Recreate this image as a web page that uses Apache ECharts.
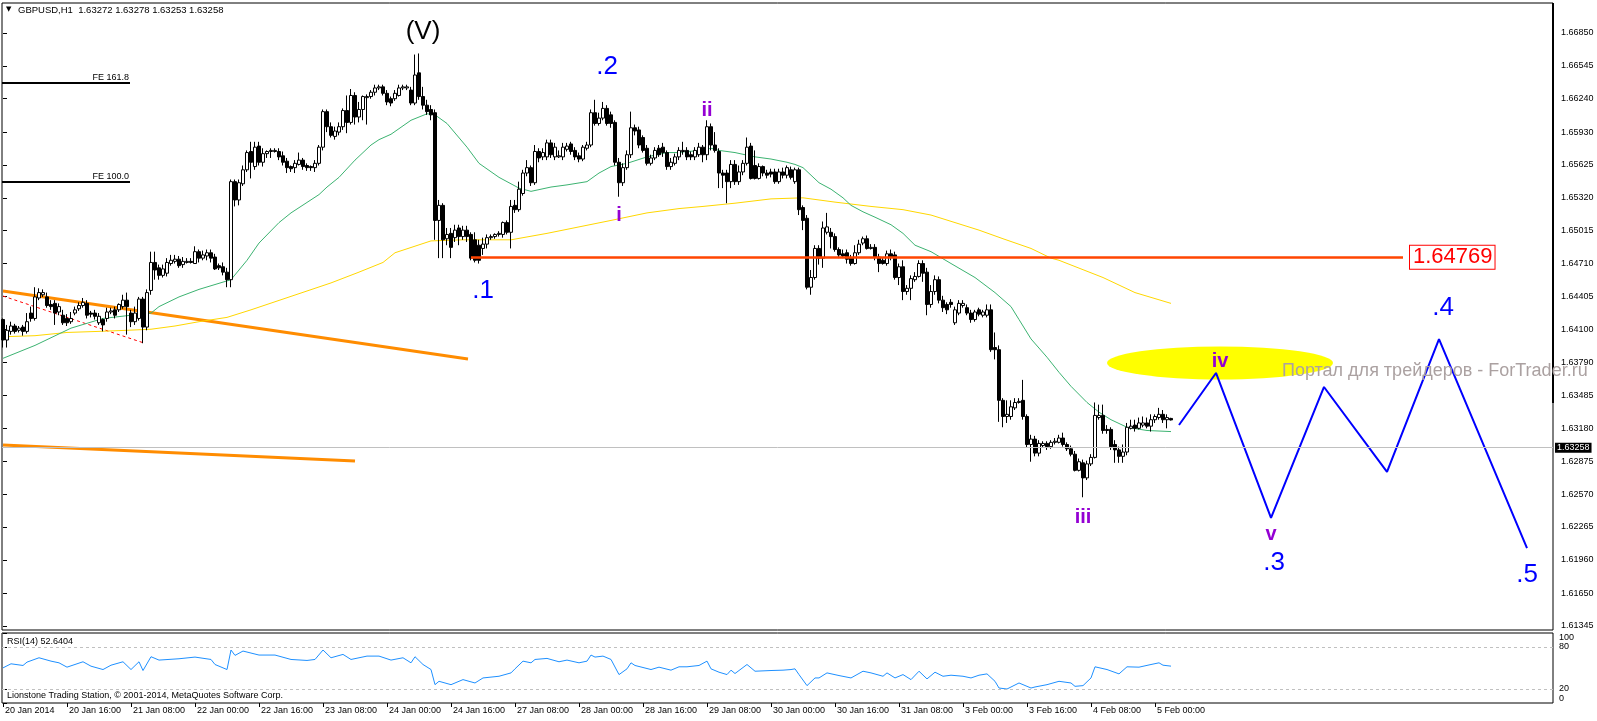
<!DOCTYPE html>
<html><head><meta charset="utf-8">
<script src="https://cdn.jsdelivr.net/npm/echarts@6/dist/echarts.min.js"></script>
<style>html,body{margin:0;padding:0;background:#fff}#c{width:1597px;height:721px}</style>
</head><body><div id="c"></div>
<script>
// ---------- DATA (GBPUSD H1, bars indexed from 20 Jan 2014 00:00) ----------
const xTickBars = [0,16,32,48,64,80,96,112,128,144,160,176,192,208,224,240,256,272,288];
const xTickLabels = ["20 Jan 2014","20 Jan 16:00","21 Jan 08:00","22 Jan 00:00","22 Jan 16:00","23 Jan 08:00","24 Jan 00:00","24 Jan 16:00","27 Jan 08:00","28 Jan 00:00","28 Jan 16:00","29 Jan 08:00","30 Jan 00:00","30 Jan 16:00","31 Jan 08:00","3 Feb 00:00","3 Feb 16:00","4 Feb 08:00","5 Feb 00:00"];
const yTicks = [1.66850,1.66545,1.66240,1.65930,1.65625,1.65320,1.65015,1.64710,1.64405,1.64100,1.63790,1.63485,1.63180,1.62875,1.62570,1.62265,1.61960,1.61650,1.61345];
const rsiTicks = [0,20,80,100];

const opens = [
1.6419,1.6400,1.6408,1.6413,1.6409,1.6412,1.6408,1.6425,1.6420,1.6439,
1.6442,1.6440,1.6433,1.6434,1.6426,1.6423,1.6420,1.6417,1.6425,1.6429,
1.6432,1.6434,1.6425,1.6425,1.6416,1.6419,1.6420,1.6426,1.6428,1.6428,
1.6431,1.6437,1.6425,1.6417,1.6420,1.6438,1.6412,1.6446,1.6472,1.6467,
1.6460,1.6462,1.6471,1.6473,1.6475,1.6470,1.6472,1.6473,1.6471,1.6482,
1.6476,1.6478,1.6481,1.6477,1.6469,1.6468,1.6463,1.6456,1.6547,1.6530,
1.6545,1.6558,1.6575,1.6561,1.6580,1.6565,1.6573,1.6575,1.6575,1.6575,
1.6571,1.6566,1.6561,1.6560,1.6563,1.6567,1.6562,1.6561,1.6560,1.6564,
1.6579,1.6612,1.6598,1.6589,1.6593,1.6598,1.6613,1.6602,1.6627,1.6607,
1.6614,1.6625,1.6626,1.6630,1.6634,1.6635,1.6629,1.6624,1.6624,1.6627,
1.6634,1.6634,1.6632,1.6620,1.6648,1.6626,1.6618,1.6614,1.6611,1.6511,
1.6525,1.6494,1.6499,1.6495,1.6504,1.6496,1.6502,1.6498,1.6493,1.6488,
1.6485,1.6489,1.6495,1.6496,1.6498,1.6498,1.6509,1.6500,1.6525,1.6521,
1.6536,1.6555,1.6560,1.6546,1.6575,1.6570,1.6570,1.6583,1.6570,1.6570,
1.6570,1.6577,1.6582,1.6576,1.6571,1.6568,1.6578,1.6581,1.6611,1.6601,
1.6606,1.6615,1.6609,1.6602,1.6565,1.6546,1.6560,1.6572,1.6597,1.6595,
1.6588,1.6578,1.6564,1.6569,1.6578,1.6579,1.6574,1.6561,1.6564,1.6570,
1.6575,1.6576,1.6572,1.6570,1.6572,1.6579,1.6572,1.6598,1.6581,1.6575,
1.6555,1.6555,1.6547,1.6563,1.6547,1.6556,1.6564,1.6580,1.6562,1.6550,
1.6561,1.6555,1.6556,1.6556,1.6547,1.6556,1.6553,1.6558,1.6547,1.6558,
1.6523,1.6513,1.6449,1.6458,1.6485,1.6476,1.6500,1.6500,1.6496,1.6484,
1.6480,1.6481,1.6476,1.6471,1.6481,1.6490,1.6494,1.6485,1.6486,1.6477,
1.6474,1.6471,1.6480,1.6479,1.6458,1.6468,1.6445,1.6448,1.6456,1.6459,
1.6471,1.6463,1.6433,1.6445,1.6456,1.6437,1.6433,1.6435,1.6416,1.6425,
1.6432,1.6430,1.6425,1.6419,1.6428,1.6423,1.6423,1.6428,1.6393,1.6391,
1.6344,1.6329,1.6329,1.6337,1.6342,1.6344,1.6329,1.6303,1.6308,1.6295,
1.6302,1.6304,1.6301,1.6305,1.6305,1.6309,1.6303,1.6299,1.6294,1.6279,
1.6286,1.6272,1.6285,1.6291,1.6328,1.6330,1.6317,1.6317,1.6303,1.6298,
1.6292,1.6296,1.6318,1.6321,1.6318,1.6321,1.6323,1.6320,1.6326,1.6328,
1.6331,1.6326,1.63272];
const highs = [
1.6420,1.6414,1.6417,1.6415,1.6413,1.6414,1.6425,1.6431,1.6449,1.6448,
1.6447,1.6444,1.6437,1.6437,1.6434,1.6428,1.6424,1.6426,1.6431,1.6435,
1.6439,1.6437,1.6427,1.6428,1.6425,1.6420,1.6430,1.6430,1.6431,1.6434,
1.6442,1.6444,1.6428,1.6431,1.6440,1.6440,1.6447,1.6482,1.6482,1.6470,
1.6470,1.6476,1.6479,1.6479,1.6478,1.6477,1.6476,1.6476,1.6487,1.6484,
1.6483,1.6484,1.6484,1.6480,1.6471,1.6472,1.6467,1.6549,1.6549,1.6549,
1.6562,1.6576,1.6584,1.6584,1.6584,1.6578,1.6576,1.6578,1.6578,1.6578,
1.6575,1.6569,1.6562,1.6567,1.6574,1.6569,1.6564,1.6562,1.6567,1.6581,
1.6614,1.6614,1.6602,1.6598,1.6602,1.6615,1.6627,1.6633,1.6630,1.6621,
1.6627,1.6628,1.6632,1.6637,1.6637,1.6637,1.6632,1.6626,1.6632,1.6637,
1.6637,1.6637,1.6635,1.6665,1.6666,1.6635,1.6623,1.6618,1.6614,1.6530,
1.6527,1.6504,1.6504,1.6507,1.6507,1.6506,1.6506,1.6500,1.6500,1.6493,
1.6495,1.6498,1.6498,1.6499,1.6501,1.6510,1.6511,1.6530,1.6530,1.6547,
1.6558,1.6567,1.6562,1.6581,1.6578,1.6578,1.6586,1.6586,1.6583,1.6576,
1.6583,1.6583,1.6584,1.6579,1.6574,1.6581,1.6584,1.6614,1.6623,1.6611,
1.6621,1.6618,1.6612,1.6604,1.6569,1.6564,1.6576,1.6612,1.6600,1.6598,
1.6590,1.6581,1.6572,1.6579,1.6581,1.6583,1.6576,1.6569,1.6573,1.6579,
1.6584,1.6579,1.6575,1.6579,1.6583,1.6581,1.6604,1.6601,1.6593,1.6578,
1.6558,1.6558,1.6567,1.6567,1.6562,1.6567,1.6588,1.6583,1.6576,1.6564,
1.6562,1.6558,1.6559,1.6559,1.6559,1.6560,1.6562,1.6561,1.6560,1.6560,
1.6525,1.6516,1.6465,1.6488,1.6488,1.6510,1.6518,1.6504,1.6499,1.6486,
1.6484,1.6484,1.6479,1.6488,1.6493,1.6496,1.6497,1.6489,1.6489,1.6480,
1.6476,1.6483,1.6484,1.6482,1.6471,1.6474,1.6451,1.6460,1.6463,1.6474,
1.6474,1.6467,1.6451,1.6460,1.6459,1.6441,1.6435,1.6438,1.6431,1.6437,
1.6437,1.6433,1.6428,1.6428,1.6430,1.6428,1.6433,1.6433,1.6407,1.6395,
1.6346,1.6344,1.6344,1.6346,1.6346,1.6363,1.6331,1.6312,1.6311,1.6307,
1.6306,1.6306,1.6307,1.6309,1.6312,1.6314,1.6305,1.6302,1.6297,1.6290,
1.6289,1.6288,1.6294,1.6342,1.6340,1.6340,1.6321,1.6319,1.6307,1.6301,
1.6303,1.6323,1.6326,1.6326,1.6328,1.6329,1.6328,1.6331,1.6331,1.6337,
1.6335,1.6331,1.63278];
const lows = [
1.6393,1.6393,1.6405,1.6406,1.6407,1.6404,1.6406,1.6417,1.6418,1.6437,
1.6440,1.6430,1.6428,1.6414,1.6423,1.6414,1.6413,1.6415,1.6423,1.6427,
1.6430,1.6420,1.6421,1.6419,1.6414,1.6408,1.6417,1.6424,1.6420,1.6426,
1.6429,1.6405,1.6412,1.6414,1.6418,1.6397,1.6409,1.6442,1.6456,1.6456,
1.6458,1.6459,1.6469,1.6471,1.6467,1.6467,1.6471,1.6471,1.6471,1.6472,
1.6474,1.6474,1.6472,1.6465,1.6465,1.6460,1.6449,1.6449,1.6524,1.6525,
1.6543,1.6556,1.6550,1.6558,1.6562,1.6561,1.6569,1.6569,1.6574,1.6567,
1.6562,1.6555,1.6556,1.6555,1.6562,1.6558,1.6557,1.6557,1.6556,1.6562,
1.6576,1.6593,1.6588,1.6586,1.6590,1.6595,1.6592,1.6600,1.6600,1.6602,
1.6604,1.6600,1.6624,1.6627,1.6632,1.6627,1.6618,1.6617,1.6622,1.6626,
1.6632,1.6632,1.6618,1.6618,1.6623,1.6614,1.6609,1.6604,1.6493,1.6476,
1.6476,1.6488,1.6476,1.6491,1.6488,1.6493,1.6491,1.6474,1.6472,1.6471,
1.6479,1.6485,1.6493,1.6494,1.6496,1.6495,1.6498,1.6485,1.6518,1.6519,
1.6534,1.6552,1.6543,1.6544,1.6565,1.6567,1.6567,1.6569,1.6567,1.6569,
1.6567,1.6575,1.6572,1.6567,1.6565,1.6566,1.6576,1.6579,1.6599,1.6599,
1.6604,1.6599,1.6597,1.6562,1.6533,1.6543,1.6558,1.6569,1.6590,1.6578,
1.6574,1.6562,1.6562,1.6567,1.6570,1.6570,1.6558,1.6558,1.6562,1.6567,
1.6572,1.6567,1.6567,1.6567,1.6570,1.6565,1.6567,1.6576,1.6574,1.6541,
1.6541,1.6527,1.6541,1.6544,1.6544,1.6553,1.6562,1.6549,1.6549,1.6549,
1.6552,1.6550,1.6551,1.6545,1.6545,1.6550,1.6550,1.6549,1.6545,1.6516,
1.6502,1.6447,1.6442,1.6456,1.6470,1.6467,1.6498,1.6485,1.6482,1.6476,
1.6476,1.6471,1.6469,1.6470,1.6479,1.6488,1.6484,1.6484,1.6474,1.6463,
1.6470,1.6469,1.6474,1.6456,1.6451,1.6437,1.6442,1.6437,1.6454,1.6458,
1.6454,1.6423,1.6430,1.6442,1.6434,1.6426,1.6424,1.6430,1.6414,1.6423,
1.6430,1.6423,1.6416,1.6417,1.6422,1.6421,1.6421,1.6389,1.6382,1.6324,
1.6319,1.6323,1.6326,1.6335,1.6341,1.6326,1.6300,1.6287,1.6292,1.6292,
1.6300,1.6298,1.6299,1.6303,1.6304,1.6301,1.6297,1.6292,1.6278,1.6278,
1.6254,1.6270,1.6283,1.6290,1.6326,1.6313,1.6313,1.6298,1.6286,1.6286,
1.6286,1.6293,1.6317,1.6315,1.6317,1.6319,1.6318,1.6315,1.6323,1.6326,
1.6323,1.6318,1.63253];
const closes = [
1.6400,1.6409,1.6413,1.6408,1.6411,1.6408,1.6417,1.6420,1.6440,1.6444,
1.6444,1.6432,1.6431,1.6425,1.6431,1.6416,1.6416,1.6420,1.6428,1.6432,
1.6435,1.6423,1.6424,1.6422,1.6422,1.6414,1.6426,1.6427,1.6423,1.6433,
1.6437,1.6431,1.6417,1.6425,1.6438,1.6412,1.6444,1.6472,1.6465,1.6460,
1.6466,1.6472,1.6474,1.6475,1.6469,1.6473,1.6473,1.6472,1.6482,1.6476,
1.6479,1.6481,1.6476,1.6466,1.6467,1.6463,1.6456,1.6547,1.6530,1.6546,
1.6558,1.6574,1.6565,1.6579,1.6565,1.6573,1.6575,1.6576,1.6576,1.6570,
1.6565,1.6560,1.6559,1.6564,1.6567,1.6561,1.6560,1.6560,1.6564,1.6579,
1.6612,1.6598,1.6590,1.6594,1.6598,1.6613,1.6602,1.6627,1.6607,1.6614,
1.6626,1.6626,1.6630,1.6634,1.6635,1.6629,1.6621,1.6620,1.6629,1.6634,
1.6635,1.6635,1.6620,1.6646,1.6626,1.6618,1.6612,1.6609,1.6511,1.6525,
1.6493,1.6498,1.6486,1.6502,1.6496,1.6502,1.6496,1.6476,1.6474,1.6474,
1.6489,1.6495,1.6496,1.6498,1.6499,1.6509,1.6500,1.6524,1.6521,1.6540,
1.6555,1.6560,1.6546,1.6575,1.6569,1.6574,1.6583,1.6572,1.6579,1.6571,
1.6579,1.6580,1.6575,1.6570,1.6568,1.6579,1.6581,1.6611,1.6601,1.6606,
1.6615,1.6601,1.6601,1.6565,1.6546,1.6560,1.6572,1.6597,1.6594,1.6581,
1.6576,1.6564,1.6569,1.6576,1.6572,1.6574,1.6561,1.6565,1.6570,1.6576,
1.6576,1.6570,1.6570,1.6576,1.6579,1.6572,1.6598,1.6581,1.6576,1.6555,
1.6553,1.6547,1.6563,1.6547,1.6556,1.6564,1.6579,1.6550,1.6550,1.6561,
1.6555,1.6553,1.6554,1.6547,1.6556,1.6553,1.6560,1.6551,1.6558,1.6521,
1.6511,1.6449,1.6458,1.6485,1.6476,1.6504,1.6505,1.6496,1.6484,1.6479,
1.6478,1.6475,1.6471,1.6481,1.6489,1.6494,1.6485,1.6486,1.6477,1.6471,
1.6471,1.6480,1.6477,1.6458,1.6468,1.6445,1.6448,1.6457,1.6459,1.6471,
1.6462,1.6433,1.6445,1.6456,1.6437,1.6430,1.6428,1.6433,1.6428,1.6434,
1.6434,1.6425,1.6419,1.6426,1.6424,1.6426,1.6428,1.6391,1.6391,1.6344,
1.6329,1.6331,1.6338,1.6342,1.6343,1.6329,1.6303,1.6308,1.6295,1.6304,
1.6304,1.6301,1.6305,1.6306,1.6309,1.6303,1.6299,1.6294,1.6279,1.6287,
1.6272,1.6285,1.6291,1.6330,1.6330,1.6316,1.6316,1.6301,1.6298,1.6292,
1.6296,1.6319,1.6320,1.6318,1.6323,1.6323,1.6320,1.6326,1.6329,1.6331,
1.6326,1.6328,1.63258];

// moving averages read at sampled bars [bar, price]
const maGreen = [[0,1.6383],[8,1.6395],[17,1.6411],[25,1.6420],[32,1.6423],[37,1.6425],[39,1.6431],[44,1.6440],[49,1.6447],[57,1.6456],[61,1.6474],[64,1.6490],[69,1.6509],[72,1.6518],[79,1.6535],[81,1.6542],[84,1.6551],[88,1.6567],[92,1.6581],[94,1.6586],[97,1.6591],[102,1.6604],[106,1.6610],[108,1.6609],[111,1.6601],[116,1.6579],[119,1.6564],[124,1.6551],[129,1.6541],[132,1.6538],[137,1.6542],[141,1.6544],[146,1.6547],[149,1.6555],[152,1.6561],[156,1.6564],[161,1.6570],[166,1.6574],[169,1.6574],[171,1.6575],[175,1.6576],[177,1.6578],[179,1.6576],[183,1.6574],[188,1.6570],[192,1.6568],[196,1.6565],[198,1.6563],[200,1.6560],[202,1.6553],[204,1.6546],[207,1.6540],[210,1.6532],[212,1.6525],[215,1.6519],[218,1.6514],[222,1.6507],[225,1.6499],[228,1.6488],[232,1.6482],[237,1.6471],[243,1.6458],[248,1.6444],[252,1.6431],[254,1.6419],[257,1.6401],[261,1.6384],[264,1.6370],[267,1.6357],[271,1.6342],[274,1.6333],[277,1.6326],[281,1.6319],[286,1.6316],[292,1.6315]];
const maYellow = [[0,1.6403],[8,1.6404],[16,1.6407],[24,1.6408],[31,1.6409],[37,1.6410],[43,1.6413],[49,1.6417],[56,1.6421],[62,1.6428],[74,1.6443],[82,1.6453],[89,1.6463],[95,1.6472],[98,1.6481],[107,1.6492],[115,1.6493],[127,1.6493],[136,1.6499],[144,1.6505],[152,1.6511],[161,1.6518],[169,1.6522],[175,1.6524],[183,1.6527],[192,1.6531],[200,1.6532],[208,1.6528],[217,1.6524],[225,1.6521],[232,1.6516],[244,1.6502],[250,1.6494],[257,1.6485],[262,1.6476],[264,1.6474],[275,1.6458],[283,1.6444],[292,1.6434]];

// RSI(14) read at sampled bars [bar, value]
const rsi = [[0,50.2],[2,56],[5,53.6],[6,58.4],[9,64.6],[12,59.8],[14,57.4],[16,51.2],[20,58.9],[22,52.6],[25,47.8],[27,54],[30,58.9],[32,47.8],[34,58.9],[35,46.4],[37,66.1],[39,61.3],[44,63.2],[48,65.6],[52,62.2],[53,55],[56,47.8],[57,75.7],[58,68],[60,74.2],[64,68.5],[68,68.5],[72,62.2],[76,60.8],[78,62.2],[80,75.7],[82,64.6],[85,69.4],[87,62.2],[91,67],[94,67],[97,61.3],[100,64.6],[102,57.4],[103,66.1],[105,55],[107,47.8],[108,26.2],[109,31],[112,26.2],[115,33.4],[118,28.6],[120,35.8],[124,38.2],[127,43],[128,48.8],[130,59.8],[132,57.4],[133,62.2],[136,63.7],[139,58.9],[141,61.3],[144,57.4],[146,59.8],[147,68.5],[148,65.6],[150,67],[152,62.2],[154,40.6],[156,48.8],[157,57.4],[158,53.6],[162,47.8],[164,51.2],[167,46.9],[169,51.7],[171,51.7],[174,53.6],[176,59.8],[177,48.8],[179,44],[181,40.6],[182,46.9],[183,42.1],[186,55],[188,45.4],[192,46.4],[195,46.9],[197,47.8],[198,48.8],[199,40.6],[201,24.8],[203,35.8],[204,35.8],[206,43],[209,39.2],[212,35.8],[215,45.4],[217,43],[220,38.2],[221,43],[223,35.8],[225,40.6],[227,33.4],[229,45.4],[231,34.4],[233,44],[235,38.2],[237,39.7],[240,38.2],[242,35.8],[244,39.7],[246,41.6],[248,31],[249,21.4],[251,20],[254,28.6],[257,21.4],[258,22.9],[261,26.2],[264,31],[267,28.6],[268,23.8],[270,24.8],[272,35.8],[273,51.7],[276,47.8],[279,41.6],[281,51.7],[284,51.2],[287,55],[289,57.4],[290,54],[292,52.64]];
const rsiLevels = [20, 80];
const rsiLast = 52.6404;

// drawn objects (bar, price)
const zigzag = [[294,1.63211],[303.25,1.63694],[317,1.62348],[330.25,1.63564],[346,1.62775],[359,1.64009],[381,1.62069]];
const trendOrange1 = [[0,1.64455],[116.25,1.63824]];
const trendOrange2 = [[0,1.63025],[88,1.62877]];
const trendRedDot = [[0,1.64408],[35.25,1.63972]];
const levelRed = {price:1.64769, from:117, to:350};
const feNames = ["FE 161.8","FE 100.0"];
const fePrices = [1.66386, 1.65467];
const feEndBar = 31.75;
const lastPrice = 1.63258;
const zoneCenter = [304.25, 1.63787];

const waveText  = ["(V)", ".1", ".2", "i", "ii", "iii", "iv", "v", ".3", ".4", ".5"];
const waveKind  = ["black","blue","blue","violet","violet","violet","violet","violet","blue","blue","blue"];
const waveBar   = [105, 120, 151, 154, 176, 270, 304.25, 317, 317.75, 360, 381];
const wavePrice = [1.66859, 1.64455, 1.66534, 1.65160, 1.66135, 1.62357, 1.63805, 1.62190, 1.61930, 1.64297, 1.61818];

// ---------- CHART ----------
const FONT = '"Liberation Sans", Arial, sans-serif';
const X_MIN = -0.25, X_MAX = 387.5;
const Y_MIN = 1.613079, Y_MAX = 1.671285;
const candles = closes.map((c, i) => [i, opens[i], c, lows[i], highs[i]]);
const n = closes.length - 1;
const kindStyle = {
  black:  {color:'#000000', fontSize:26, fontWeight:'normal'},
  blue:   {color:'#0000FF', fontSize:26, fontWeight:'normal'},
  violet: {color:'#9400D3', fontSize:20, fontWeight:'bold'}
};
const waveData = waveText.map((t, i) => ({
  value: [waveBar[i], wavePrice[i]],
  label: Object.assign({show:true, formatter:t, position:'inside', fontFamily:FONT, textBorderWidth:0, textShadowBlur:0}, kindStyle[waveKind[i]])
}));
const fmt = v => v.toFixed(5);

const chart = echarts.init(document.getElementById('c'));
const option = {
  animation: false,
  backgroundColor: '#ffffff',
  grid: [
    {left:2, right:44, top:3, height:627, show:true, borderColor:'#000', borderWidth:1, backgroundColor:'#fff'},
    {left:2, right:44, top:633, height:70, show:true, borderColor:'#000', borderWidth:1, backgroundColor:'#fff'}
  ],
  xAxis: [
    {type:'value', gridIndex:0, min:X_MIN, max:X_MAX, show:false},
    {type:'value', gridIndex:1, min:X_MIN, max:X_MAX, splitLine:{show:false}, axisLine:{show:false},
     axisTick:{show:true, customValues:xTickBars, length:4, lineStyle:{color:'#000'}},
     axisLabel:{customValues:xTickBars, formatter:v => xTickLabels[xTickBars.indexOf(Math.round(v))] || '',
                align:'left', margin:3, fontSize:9, color:'#000', fontFamily:FONT, padding:[0,0,0,2]}}
  ],
  yAxis: [
    {type:'value', gridIndex:0, min:Y_MIN, max:Y_MAX, position:'right', splitLine:{show:false}, axisLine:{show:false},
     axisTick:{show:true, customValues:yTicks, length:4, lineStyle:{color:'#000'}},
     axisLabel:{customValues:yTicks, formatter:fmt, margin:8, fontSize:9, color:'#000', fontFamily:FONT}},
    {type:'value', gridIndex:1, min:0, max:100, position:'right', splitLine:{show:false}, axisLine:{show:false},
     axisTick:{show:true, customValues:rsiTicks, length:4, lineStyle:{color:'#000'}},
     axisLabel:{customValues:rsiTicks, margin:6, fontSize:9, color:'#000', fontFamily:FONT,
                verticalAlignMinLabel:'bottom', verticalAlignMaxLabel:'top'}}
  ],
  graphic: [
    {type:'rect', shape:{x:1552, y:3, width:2, height:400}, style:{fill:'#000'}, silent:true},
    {type:'text', left:6, top:6, style:{text:'\u25BC', fill:'#000', fontSize:7, fontFamily:'DejaVu Sans'}, silent:true},
    {type:'text', left:18, top:5, style:{text:'GBPUSD,H1  ' + [opens[n], highs[n], lows[n], closes[n]].map(fmt).join(' '), fill:'#000', fontSize:9.5, fontFamily:FONT}, silent:true},
    {type:'text', left:7, top:637, style:{text:'RSI(14) ' + rsiLast.toFixed(4), fill:'#000', fontSize:9, fontFamily:FONT}, silent:true},
    {type:'text', left:7, top:691, style:{text:'Lionstone Trading Station, \u00A9 2001-2014, MetaQuotes Software Corp.', fill:'#000', fontSize:9, fontFamily:FONT}, silent:true},
    {type:'text', left:1282, top:362, z:50, style:{text:'Портал для трейдеров - ForTrader.ru', fill:'#ABA1A1', fontSize:18, fontFamily:FONT}, silent:true}
  ],
  series: [
    {type:'scatter', name:'zone', xAxisIndex:0, yAxisIndex:0, data:[zoneCenter], symbol:'circle', symbolSize:[226,33],
     itemStyle:{color:'#FFFF00', opacity:1}, z:1, silent:true},
    {type:'line', name:'last', xAxisIndex:0, yAxisIndex:0, data:[], z:1, silent:true,
     markLine:{silent:true, symbol:['none','none'], animation:false,
       lineStyle:{color:'#C0C0C0', width:1, type:'solid'},
       label:{show:true, position:'end', distance:2, formatter:() => fmt(lastPrice), color:'#fff', backgroundColor:'#000', padding:[1,2,0,2], fontSize:9, fontFamily:FONT},
       data:[{yAxis:lastPrice}]}},
    {type:'line', name:'fe', xAxisIndex:0, yAxisIndex:0, data:[], z:2, silent:true,
     markLine:{silent:true, symbol:['none','none'], animation:false,
       lineStyle:{color:'#000', width:2, type:'solid'},
       label:{show:true, position:'insideEndTop', distance:1, formatter:'{b}', color:'#000', fontSize:9, fontFamily:FONT},
       data: feNames.map((nm, k) => [{name:nm, coord:[X_MIN, fePrices[k]]}, {coord:[feEndBar, fePrices[k]]}])}},
    {type:'line', name:'level', xAxisIndex:0, yAxisIndex:0, data:[], z:2, silent:true,
     markLine:{silent:true, symbol:['none','none'], animation:false,
       lineStyle:{color:'#FF4500', width:2.5, type:'solid'},
       label:{show:true, position:'end', distance:7, formatter:() => fmt(levelRed.price), color:'#FF0000', backgroundColor:'#fff',
              borderColor:'#FF0000', borderWidth:1, padding:[1,2,0,3], fontSize:22, fontFamily:FONT},
       data:[[{coord:[levelRed.from, levelRed.price]}, {coord:[levelRed.to, levelRed.price]}]]}},
    {type:'line', name:'orange1', xAxisIndex:0, yAxisIndex:0, data:trendOrange1, showSymbol:false, symbol:'none',
     lineStyle:{color:'#FF8C00', width:3}, z:2, silent:true},
    {type:'line', name:'orange2', xAxisIndex:0, yAxisIndex:0, data:trendOrange2, showSymbol:false, symbol:'none',
     lineStyle:{color:'#FF8C00', width:3}, z:2, silent:true},
    {type:'line', name:'reddot', xAxisIndex:0, yAxisIndex:0, data:trendRedDot, showSymbol:false, symbol:'none',
     lineStyle:{color:'#FF0000', width:1, type:[3,3]}, z:2, silent:true},
    {type:'line', name:'maYellow', xAxisIndex:0, yAxisIndex:0, data:maYellow, showSymbol:false, symbol:'none',
     lineStyle:{color:'#FFD700', width:1}, z:2, silent:true},
    {type:'line', name:'maGreen', xAxisIndex:0, yAxisIndex:0, data:maGreen, showSymbol:false, symbol:'none',
     lineStyle:{color:'#3CB371', width:1}, z:2, silent:true},
    {type:'candlestick', name:'GBPUSD', xAxisIndex:0, yAxisIndex:0, data:candles, barWidth:3, z:3, silent:true,
     itemStyle:{color:'#ffffff', color0:'#000000', borderColor:'#000000', borderColor0:'#000000', borderColorDoji:'#000000', borderWidth:1}},
    {type:'line', name:'zigzag', xAxisIndex:0, yAxisIndex:0, data:zigzag, showSymbol:false, symbol:'none',
     lineStyle:{color:'#0000FF', width:2}, z:4, silent:true},
    {type:'scatter', name:'waves', xAxisIndex:0, yAxisIndex:0, data:waveData, symbolSize:0, z:5, silent:true,
     itemStyle:{color:'rgba(0,0,0,0)', opacity:1}},
    {type:'line', name:'RSI', xAxisIndex:1, yAxisIndex:1, data:rsi, showSymbol:false, symbol:'none',
     lineStyle:{color:'#1E90FF', width:1}, z:3, silent:true,
     markLine:{silent:true, symbol:['none','none'], animation:false, label:{show:false},
       lineStyle:{color:'#C0C0C0', width:1, type:[3,3]}, data:rsiLevels.map(v => ({yAxis:v}))}}
  ]
};
chart.setOption(option);
</script>
</body></html>
